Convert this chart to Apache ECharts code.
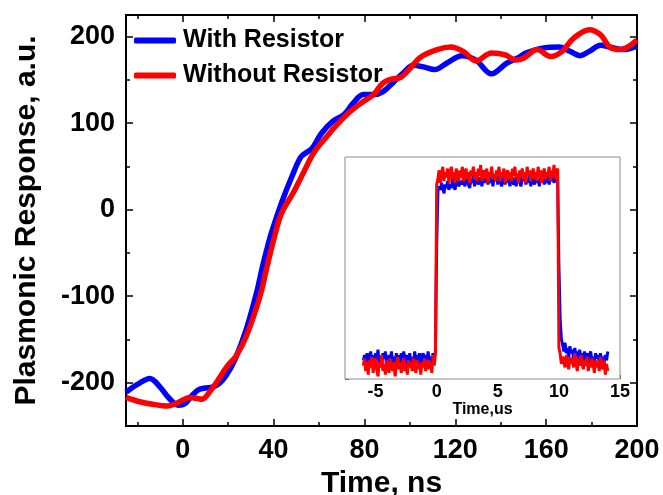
<!DOCTYPE html>
<html><head><meta charset="utf-8">
<script src="https://cdn.jsdelivr.net/npm/echarts@6/dist/echarts.min.js"></script>
<style>html,body{margin:0;padding:0;background:#fff}#c{width:663px;height:495px}</style>
</head><body><div id="c"></div>
<script>
// ---------- main chart data ----------
const seriesNames = ['With Resistor', 'Without Resistor'];
const blueTime = [-25,-20,-14.5,-10,-6,-2,1,4,7,10,13,16,19,23,28,32.5,35,37,39,43.5,48,52,55,57,61,66,71,75,79.5,84,88,93,97,101.5,106,111,116,123,129,136,142.5,148,151,159,166,170.5,175,179,184,188,194,200];
const blueResp = [-211,-202,-195,-205,-218,-226,-224,-215,-208,-206,-205,-201,-192,-173,-138,-96,-67,-46,-27,8,38,61,67,71,88,102,110,123,133,133,136,148,158,167,165,162,169,178,173,157,169,176,181,187,188,183,178,183,190,188,185,189];
const redTime = [-25,-19,-13,-7,-3,0,3,6,8.5,12.5,16,19.5,23.5,28,34,37,40,43.5,48.5,53,57.5,63.5,68.5,73.5,79.5,84,88,92,96,100,104.5,112,118,123.5,129,136,142,146.5,150,156,162,167,172,179,184,188,192.5,200];
const redResp = [-217,-222,-225,-227,-224,-220,-217,-218,-219,-208,-195,-181,-169,-146,-100,-67,-35,-4,19,42,65,85,100,113,125,133,146,151,153,163,176,185,188,183,172,181,179,173,175,185,177,183,198,208,202,188,185,196];

// tick positions (main axes)
const xTickValues = [-25,-20,-15,-10,-5,0,5,10,15,20,25,30,35,40,45,50,55,60,65,70,75,80,85,90,95,100,105,110,115,120,125,130,135,140,145,150,155,160,165,170,175,180,185,190,195,200];
const yTickValues = [-250,-225,-200,-175,-150,-125,-100,-75,-50,-25,0,25,50,75,100,125,150,175,200,225];

// ---------- inset data ----------
const insetTime = [
-6,-5.9,-5.8,-5.7,-5.6,-5.5,-5.4,-5.3,-5.2,-5.1,
-5,-4.9,-4.8,-4.7,-4.6,-4.5,-4.4,-4.3,-4.2,-4.1,
-4,-3.9,-3.8,-3.7,-3.6,-3.5,-3.4,-3.3,-3.2,-3.1,
-3,-2.9,-2.8,-2.7,-2.6,-2.5,-2.4,-2.3,-2.2,-2.1,
-2,-1.9,-1.8,-1.7,-1.6,-1.5,-1.4,-1.3,-1.2,-1.1,
-1,-0.9,-0.8,-0.7,-0.6,-0.5,-0.4,-0.3,-0.2,-0.1,
0,
0.1,0.2,0.3,0.4,0.5,0.6,0.7,0.8,0.9,1,
1.1,1.2,1.3,1.4,1.5,1.6,1.7,1.8,1.9,2,
2.1,2.2,2.3,2.4,2.5,2.6,2.7,2.8,2.9,3,
3.1,3.2,3.3,3.4,3.5,3.6,3.7,3.8,3.9,4,
4.1,4.2,4.3,4.4,4.5,4.6,4.7,4.8,4.9,5,
5.1,5.2,5.3,5.4,5.5,5.6,5.7,5.8,5.9,6,
6.1,6.2,6.3,6.4,6.5,6.6,6.7,6.8,6.9,7,
7.1,7.2,7.3,7.4,7.5,7.6,7.7,7.8,7.9,8,
8.1,8.2,8.3,8.4,8.5,8.6,8.7,8.8,8.9,9,
9.1,9.2,9.3,9.4,9.5,9.6,9.7,9.8,9.9,
10,
10.1,10.2,10.3,10.4,10.5,10.6,10.7,10.8,10.9,11,
11.1,11.2,11.3,11.4,11.5,11.6,11.7,11.8,11.9,12,
12.1,12.2,12.3,12.4,12.5,12.6,12.7,12.8,12.9,13,
13.1,13.2,13.3,13.4,13.5,13.6,13.7,13.8,13.9,14];
const insetBlue = [
-0.02,0.01,-0.04,0.02,-0.05,0.00,0.03,-0.03,0.01,-0.06,
0.02,-0.02,0.04,-0.04,0.00,-0.05,0.02,-0.01,0.03,-0.06,
-0.02,0.01,-0.04,0.03,-0.03,0.00,-0.05,0.02,-0.02,0.01,
-0.06,0.02,-0.03,0.03,-0.01,-0.05,0.01,-0.03,0.02,-0.04,
0.00,-0.06,0.03,-0.02,0.01,-0.04,0.02,-0.05,0.00,0.02,
-0.03,0.01,-0.05,0.03,-0.02,0.00,-0.04,0.02,-0.01,0.03,
0.62,
0.93,0.96,0.94,0.98,0.95,0.92,0.97,0.95,0.99,0.94,
0.97,0.95,1.00,0.96,0.94,0.98,1.01,0.96,0.95,0.99,
0.97,1.01,0.96,0.99,1.02,0.97,0.95,1.00,0.98,1.02,
0.96,1.00,1.03,0.97,0.99,1.01,0.96,1.02,0.98,1.00,
1.03,0.97,1.00,0.98,1.02,0.96,1.01,0.99,1.03,0.97,
1.00,1.02,0.96,0.99,1.01,0.97,1.03,0.98,1.00,0.96,
1.02,0.99,0.97,1.01,0.96,1.00,1.03,0.98,0.96,1.01,
0.99,1.02,0.97,1.00,0.98,1.03,0.96,1.01,0.99,0.97,
1.02,0.98,1.00,0.96,1.01,0.99,1.03,0.97,1.00,0.98,
1.02,0.97,1.01,0.99,1.03,0.98,1.00,1.02,0.99,
0.52,
0.22,0.10,0.07,0.03,0.08,0.02,0.05,0.00,0.06,0.02,
0.04,-0.01,0.05,0.01,0.03,-0.02,0.04,0.00,0.02,-0.03,
0.03,-0.01,0.02,-0.04,0.01,0.03,-0.02,0.00,-0.04,0.02,
-0.01,0.01,-0.03,0.02,-0.02,0.00,-0.04,0.01,-0.02,0.03];
const insetRed = [
-0.05,-0.01,-0.08,-0.03,-0.10,-0.02,-0.06,0.00,-0.09,-0.04,
-0.01,-0.07,-0.11,-0.03,-0.06,0.01,-0.08,-0.04,-0.10,-0.02,
-0.06,-0.09,-0.01,-0.05,-0.08,-0.03,-0.11,-0.04,0.00,-0.07,
-0.03,-0.09,-0.05,-0.01,-0.08,-0.04,-0.10,-0.02,-0.06,-0.03,
-0.08,-0.01,-0.05,-0.09,-0.02,-0.07,-0.04,-0.10,-0.03,-0.06,
-0.01,-0.08,-0.04,-0.02,-0.07,-0.03,-0.09,0.01,-0.05,0.02,
0.97,
1.00,1.05,0.98,1.03,1.07,0.99,1.04,1.01,1.06,0.98,
1.03,1.07,1.00,1.04,0.98,1.06,1.02,0.99,1.05,1.01,
1.07,0.99,1.03,1.06,1.00,1.04,0.98,1.05,1.02,1.07,
1.00,1.04,0.99,1.06,1.02,1.08,0.99,1.03,1.05,1.00,
1.06,0.98,1.04,1.01,1.07,1.00,1.03,0.99,1.05,1.02,
1.07,0.99,1.04,1.01,1.06,0.98,1.03,1.05,1.00,1.04,
0.99,1.06,1.02,1.07,1.00,1.03,0.98,1.05,1.01,1.06,
1.00,1.04,0.98,1.07,1.02,1.05,0.99,1.03,1.06,1.00,
1.04,0.99,1.07,1.01,1.05,0.98,1.03,1.06,1.00,1.04,
1.02,1.07,0.99,1.05,1.01,1.08,1.00,1.04,1.06,
0.05,
0.02,-0.04,0.00,-0.02,-0.06,0.01,-0.03,-0.07,0.00,-0.04,
-0.01,-0.06,0.02,-0.03,-0.08,-0.01,-0.05,0.01,-0.04,-0.07,
-0.02,-0.05,0.00,-0.08,-0.03,-0.06,-0.01,-0.04,-0.09,-0.02,
-0.06,-0.03,-0.08,0.00,-0.05,-0.07,-0.02,-0.10,-0.04,-0.08];
const insetXLabels = [-5, 0, 5, 10, 15];

// ---------- helpers ----------
const FONT = '"Liberation Sans", Arial, sans-serif';
const zip = (xs, ys) => xs.map((x, i) => [x, ys[i]]);
const isMajorX = v => Number(v) % 40 === 0;
const isMinorX = v => Number(v) % 20 === 0 && Number(v) % 40 !== 0;
const isMajorY = v => Number(v) % 100 === 0;
const isMinorY = v => Number(v) % 100 !== 0 && Number(v) % 50 === 0;

function tickAxis(kind, pos, data, test, len, labels, extra) {
  return Object.assign({
    type: 'category', gridIndex: 0, position: pos, data: data, boundaryGap: false,
    axisLine: { show: false, onZero: false },
    axisTick: { show: true, inside: true, length: len, interval: (i, v) => test(v),
                lineStyle: { color: '#000', width: 1.5 } },
    axisLabel: labels ? { show: true, interval: (i, v) => test(v), fontFamily: FONT,
                fontWeight: 'bold', fontSize: 27, color: '#000',
                margin: 11 } : { show: false },
    splitLine: { show: false }
  }, extra || {});
}

const chart = echarts.init(document.getElementById('c'), null, { renderer: 'canvas' });
chart.setOption({
  animation: false,
  backgroundColor: '#fff',
  grid: [
    { left: 126, right: 26, top: 15, bottom: 69, show: true, borderColor: '#000', borderWidth: 2,
      backgroundColor: 'transparent', containLabel: false, outerBoundsMode: 'none' },
    { left: 345, right: 43, top: 157, bottom: 116, show: true, borderColor: '#8c8c8c', borderWidth: 1,
      backgroundColor: '#fff', z: 5, containLabel: false, outerBoundsMode: 'none' }
  ],
  legend: {
    data: seriesNames, orient: 'vertical', left: 134, top: 28, padding: 0, itemGap: 10,
    icon: 'roundRect', itemWidth: 42, itemHeight: 6,
    textStyle: { fontFamily: FONT, fontWeight: 'bold', fontSize: 25, color: '#000', padding: [0, 0, 0, 2] }
  },
  xAxis: [
    { type: 'value', gridIndex: 0, min: -25, max: 200, show: false },
    tickAxis('x', 'bottom', xTickValues, isMajorX, 7, true, {
      name: 'Time, ns', nameLocation: 'middle', nameGap: 38,
      nameTextStyle: { fontFamily: FONT, fontWeight: 'bold', fontSize: 30, color: '#000' } }),
    tickAxis('x', 'bottom', xTickValues, isMinorX, 4, false),
    tickAxis('x', 'top', xTickValues, isMajorX, 7, false),
    tickAxis('x', 'top', xTickValues, isMinorX, 4, false),
    { type: 'value', gridIndex: 1, min: -7.5, max: 15, interval: 2.5,
      axisLine: { show: false, onZero: false },
      axisTick: { show: true, inside: true, length: 4, lineStyle: { color: '#555', width: 1 } },
      axisLabel: { show: true, showMinLabel: false, showMaxLabel: true, margin: 4,
        formatter: v => (insetXLabels.indexOf(v) >= 0 ? String(v) : ''),
        fontFamily: FONT, fontWeight: 'bold', fontSize: 18, color: '#000' },
      splitLine: { show: false },
      name: 'Time,us', nameLocation: 'middle', nameGap: 23,
      nameTextStyle: { fontFamily: FONT, fontWeight: 'bold', fontSize: 16, color: '#000' } }
  ],
  yAxis: [
    { type: 'value', gridIndex: 0, min: -250, max: 225, show: false },
    tickAxis('y', 'left', yTickValues, isMajorY, 7, true, {
      name: 'Plasmonic Response, a.u.', nameLocation: 'middle', nameGap: 84,
      nameTextStyle: { fontFamily: FONT, fontWeight: 'bold', fontSize: 30, color: '#000' } }),
    tickAxis('y', 'left', yTickValues, isMinorY, 4, false),
    tickAxis('y', 'right', yTickValues, isMajorY, 7, false),
    tickAxis('y', 'right', yTickValues, isMinorY, 4, false),
    { type: 'value', gridIndex: 1, min: -0.125, max: 1.125, interval: 0.125,
      axisLine: { show: false, onZero: false },
      axisTick: { show: true, inside: true, length: 4, lineStyle: { color: '#555', width: 1 } },
      axisLabel: { show: false }, splitLine: { show: false } }
  ],
  series: [
    { name: seriesNames[0], type: 'line', xAxisIndex: 0, yAxisIndex: 0, data: zip(blueTime, blueResp),
      smooth: 0.35, showSymbol: false, color: '#0000ff', lineStyle: { width: 5.5, color: '#0000ff' }, z: 3 },
    { name: seriesNames[1], type: 'line', xAxisIndex: 0, yAxisIndex: 0, data: zip(redTime, redResp),
      smooth: 0.35, showSymbol: false, color: '#ff0000', lineStyle: { width: 5.5, color: '#ff0000' }, z: 4 },
    { name: 'inset ' + seriesNames[0], type: 'line', xAxisIndex: 5, yAxisIndex: 5, data: zip(insetTime, insetBlue),
      showSymbol: false, color: '#0000ff', lineStyle: { width: 3, color: '#0000ff' }, z: 6 },
    { name: 'inset ' + seriesNames[1], type: 'line', xAxisIndex: 5, yAxisIndex: 5, data: zip(insetTime, insetRed),
      showSymbol: false, color: '#ff0000', lineStyle: { width: 3, color: '#ff0000' }, z: 7 }
  ]
});
</script></body></html>
